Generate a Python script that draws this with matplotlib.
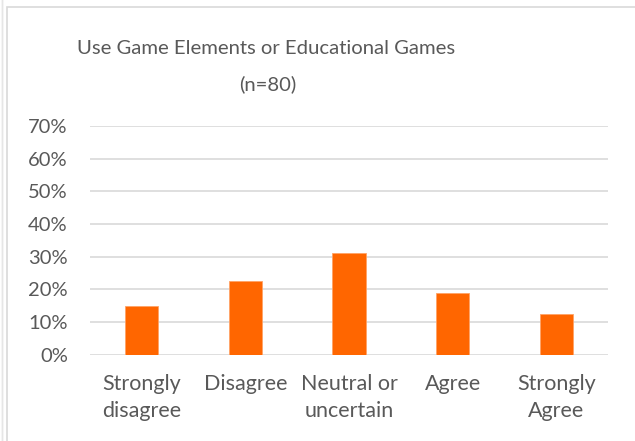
import matplotlib.pyplot as plt
from matplotlib.patches import Rectangle
from matplotlib.ticker import PercentFormatter

# responses out of n=80
categories = ["Strongly\ndisagree", "Disagree", "Neutral or\nuncertain", "Agree", "Strongly\nAgree"]
counts = [12, 18, 25, 15, 10]
n_total = 80
shares = [c / n_total for c in counts]
y_ticks = [0, 0.1, 0.2, 0.3, 0.4, 0.5, 0.6, 0.7]

plt.rcParams['font.family'] = ['Lato', 'DejaVu Sans']
text_col = '#595959'

fig = plt.figure(figsize=(6.35, 4.41), dpi=100)
W, H = 635, 441
ax = fig.add_axes([90 / W, 1 - 354.7 / H, (608 - 90) / W, (354.7 - 126) / H])

x = range(len(categories))
ax.bar(x, shares, width=0.32, color='#FF6600', edgecolor='#FFA366', linewidth=0.6, zorder=3)

ax.set_xlim(-0.5, len(categories) - 0.5)
ax.set_ylim(0, 0.7)
ax.set_yticks(y_ticks)
ax.yaxis.set_major_formatter(PercentFormatter(1.0, decimals=0))
ax.set_xticks(list(x))
ax.set_xticklabels(categories, fontsize=15.5, color=text_col, linespacing=1.45)
ax.tick_params(axis='y', labelsize=14.5, colors=text_col, length=0, pad=16)
ax.tick_params(axis='x', length=0, pad=14)
ax.grid(axis='y', color='#D9D9D9', linewidth=1.2, zorder=0)
for s in ax.spines.values():
    s.set_visible(False)

fig.text(266 / W, 1 - 49 / H, "Use Game Elements or Educational Games",
         ha='center', va='center', fontsize=14.6, color=text_col)
fig.text(268 / W, 1 - 84 / H, "(n=80)",
         ha='center', va='center', fontsize=14.6, color=text_col)

# chart frame
fig.patches.append(Rectangle((7 / W, -0.05), 1.0, 1 - 7 / H + 0.05,
                             transform=fig.transFigure, fill=False,
                             edgecolor='#D9D9D9', linewidth=1.2))
fig.patches.append(Rectangle((1.5 / W, -0.05), 0, 1.1,
                             transform=fig.transFigure, fill=False,
                             edgecolor='#E6E6E6', linewidth=1.0))

fig.savefig('out.png', dpi=100)
